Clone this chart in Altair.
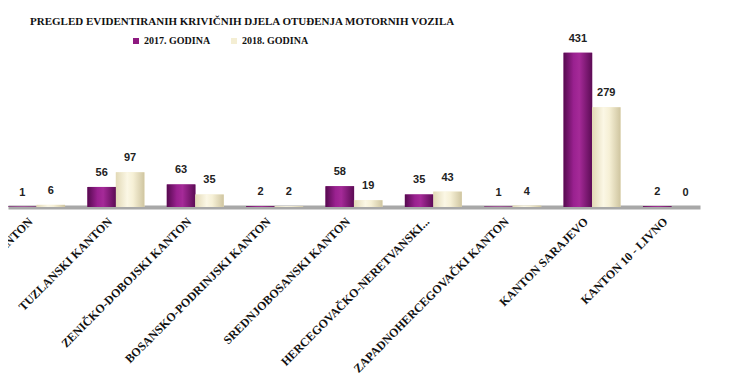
import altair as alt
import pandas as pd

categories = [
    "UNSKO-SANSKI KANTON",
    "TUZLANSKI KANTON",
    "ZENIČKO-DOBOJSKI KANTON",
    "BOSANSKO-PODRINJSKI KANTON",
    "SREDNJOBOSANSKI KANTON",
    "HERCEGOVAČKO-NERETVANSKI...",
    "ZAPADNOHERCEGOVAČKI KANTON",
    "KANTON SARAJEVO",
    "KANTON 10 - LIVNO",
]
series = ["2017. GODINA", "2018. GODINA"]
values_2017 = [1, 56, 63, 2, 58, 35, 1, 431, 2]
values_2018 = [6, 97, 35, 2, 19, 43, 4, 279, 0]

rows = []
for c, a, b in zip(categories, values_2017, values_2018):
    rows.append({"kanton": c, "godina": series[0], "broj": a})
    rows.append({"kanton": c, "godina": series[1], "broj": b})
df = pd.DataFrame(rows)

W, H = 692, 161
SERIF = "Liberation Serif"
HALF = 14.2  # half of a single bar's width (px)

purple_grad = {
    "gradient": "linear", "x1": 0, "x2": 1, "y1": 0, "y2": 0,
    "stops": [
        {"offset": 0, "color": "#560a4f"},
        {"offset": 0.35, "color": "#9a2190"},
        {"offset": 0.55, "color": "#a52a98"},
        {"offset": 1, "color": "#5c0c55"},
    ],
}
cream_grad = {
    "gradient": "linear", "x1": 0, "x2": 1, "y1": 0, "y2": 0,
    "stops": [
        {"offset": 0, "color": "#e2d9b6"},
        {"offset": 0.4, "color": "#fbf7e5"},
        {"offset": 0.6, "color": "#f6f0d6"},
        {"offset": 1, "color": "#cfc5a0"},
    ],
}

x_enc = alt.X(
    "kanton:N",
    scale=alt.Scale(domain=categories, paddingInner=0.28, paddingOuter=0),
    axis=alt.Axis(
        title=None,
        labelAngle=-45,
        labelAlign="right",
        labelBaseline="middle",
        labelPadding=12,
        labelOffset=-6,
        labelFont=SERIF,
        labelFontWeight="bold",
        labelFontSize=12,
        labelColor="#111111",
        labelLimit=400,
        ticks=False,
        domain=True,
        domainColor="#a8a8a8",
        domainWidth=4,
        grid=False,
    ),
)
y_enc = alt.Y("broj:Q", scale=alt.Scale(domain=[0, 450]), axis=None)
color_enc = alt.Color(
    "godina:N",
    scale=alt.Scale(domain=series, range=["#8e1a80", "#f4eed3"]),
    legend=alt.Legend(
        title=None,
        orient="none",
        legendX=123,
        legendY=-10,
        direction="horizontal",
        symbolType="square",
        symbolSize=36,
        symbolStrokeWidth=0,
        labelFont=SERIF,
        labelFontWeight="bold",
        labelFontSize=10,
        labelColor="#111111",
        labelOffset=3,
        columnPadding=18,
        padding=0,
    ),
)

base = alt.Chart(df)
d17 = base.transform_filter(alt.datum.godina == series[0])
d18 = base.transform_filter(alt.datum.godina == series[1])

bars17 = d17.mark_bar(width=alt.RelativeBandSize(0.5), xOffset=-HALF).encode(x=x_enc, y=y_enc, color=color_enc)
bars18 = d18.mark_bar(width=alt.RelativeBandSize(0.5), xOffset=HALF).encode(x=x_enc, y=y_enc, color=color_enc)

shade17 = d17.mark_bar(fill=purple_grad, width=alt.RelativeBandSize(0.5), xOffset=-HALF).encode(x=x_enc, y=y_enc)
shade18 = d18.mark_bar(fill=cream_grad, width=alt.RelativeBandSize(0.5), xOffset=HALF).encode(x=x_enc, y=y_enc)

txt = dict(baseline="alphabetic", dy=-11, font="Liberation Sans", fontWeight="bold", fontSize=11, color="#222222")
labels17 = d17.mark_text(dx=-HALF, **txt).encode(x=x_enc, y=y_enc, text="broj:Q")
labels18 = d18.mark_text(dx=HALF, **txt).encode(x=x_enc, y=y_enc, text="broj:Q")

chart = alt.layer(bars17, bars18, shade17, shade18, labels17, labels18).properties(
    width=W,
    height=H,
    padding={"left": 0, "top": 38, "right": 24, "bottom": 181},
    autosize=alt.AutoSizeParams(type="none"),
    title=alt.TitleParams(
        "PREGLED  EVIDENTIRANIH  KRIVIČNIH DJELA  OTUĐENJA MOTORNIH VOZILA",
        anchor="start",
        frame="group",
        dx=22,
        offset=6,
        font=SERIF,
        fontWeight="bold",
        fontSize=11,
        color="#111111",
    ),
).configure_view(stroke=None)

chart.save("out.html", embed_options={"renderer": "svg", "actions": False})
